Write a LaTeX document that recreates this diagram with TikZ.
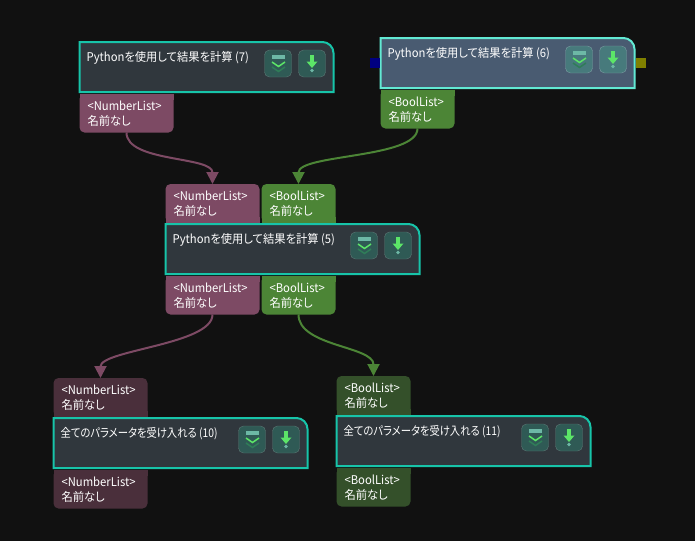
\documentclass[tikz,border=0pt]{standalone}
\usepackage{fontspec}
\setmainfont[RawFeature=+palt]{Noto Sans CJK JP}
\newfontfamily\titlefont[RawFeature=+palt,FakeStretch=0.94]{Noto Sans CJK JP}
\newfontfamily\kanatitlefont[RawFeature=+palt,FakeStretch=0.86]{Noto Sans CJK JP}
\newfontfamily\portfont[RawFeature=+palt,FakeStretch=0.94]{Noto Sans CJK JP}
\usepackage{xcolor}
\usetikzlibrary{
    arrows.meta,
    positioning,
    calc
}
\definecolor{canvasbg}{HTML}{111111}
\definecolor{plainfill}{HTML}{30373D}
\definecolor{plainedge}{HTML}{17C4A9}
\definecolor{plainbtn}{HTML}{2F5A55}
\definecolor{plainbtnedge}{HTML}{5B7774}
\definecolor{activefill}{HTML}{495B71}
\definecolor{activeedge}{HTML}{62E9D3}
\definecolor{activebtn}{HTML}{477A7C}
\definecolor{activebtnedge}{HTML}{7A9CA2}
\definecolor{numfill}{HTML}{7D4A64}
\definecolor{numdim}{HTML}{4A2F3B}
\definecolor{boolfill}{HTML}{4C8536}
\definecolor{booldim}{HTML}{34502A}
\definecolor{iconbar}{HTML}{6DB8A6}
\definecolor{iconlime}{HTML}{5CE568}
\definecolor{icondim}{HTML}{2F7D58}
\definecolor{socketblue}{HTML}{000080}
\definecolor{socketolive}{HTML}{808000}
\tikzset{
    % Block body, outline is drawn afterwards
    blockbox/.style={
        rectangle,
        anchor=north west,
        minimum width=254pt,
        minimum height=50pt,
        inner sep=0pt,
        outer sep=0pt
    },
    % Block title
    blocktext/.style={
        font=\titlefont\fontsize{12}{14}\selectfont,
        text=white,
        inner sep=0pt
    },
    % Square button on a block
    iconbutton/.style={
        rectangle,
        rounded corners=5pt,
        draw=#1btnedge,
        fill=#1btn,
        minimum size=27pt,
        inner sep=0pt,
        outer sep=0pt
    },
    % Typed port, number or bool width
    portbox/.style={
        rectangle,
        rounded corners=5pt,
        fill=#1,
        text=white,
        font=\portfont\fontsize{12}{15}\selectfont,
        minimum height=38.5pt,
        inner xsep=8pt,
        inner ysep=0pt,
        outer sep=0pt,
        align=left
    },
    numport/.style={portbox=#1, text width=78pt},
    boolport/.style={portbox=#1, text width=58pt},
    % Small side socket
    sidesocket/.style={
        rectangle,
        fill=#1,
        minimum size=10pt,
        inner sep=0pt,
        outer sep=0pt
    },
    % Connector between ports
    linkarrow/.style={
        -{Triangle[width=12pt,length=12pt]},
        line width=2pt,
        color=#1
    }
}
% name, top left corner, title, colour prefix
\newcommand{\flowblock}[4]{
    \node[blockbox] (#1) at (#2) {};
    \path[draw=#4edge, fill=#4fill, line width=2pt]
        (#1.south west) -- (#1.north west) -- ($(#1.north east)+(-11,0)$)
        .. controls ($(#1.north east)+(-5,0)$) and ($(#1.north east)+(0,5)$) .. ($(#1.north east)+(0,11)$)
        -- (#1.south east) -- cycle;
    \node[blocktext, anchor=west] (#1-title) at ($(#1.north west)+(7,16)$) {#3};
    \node[iconbutton=#4, below left=8pt and 8pt of #1.north east] (#1-pin) {};
    \node[iconbutton=#4, left=7pt of #1-pin] (#1-fold) {};
    % fold icon
    \begin{scope}[shift={(#1-fold.center)}]
        \fill[iconbar] (-6,-8.5) rectangle (7,-4.5);
        \draw[iconlime, line width=1.5pt] (-6,-1.5) -- (0.5,3) -- (7,-1.5);
        \draw[icondim, line width=1.5pt] (-6,3.5) -- (0.5,8) -- (7,3.5);
    \end{scope}
    % pin icon
    \begin{scope}[shift={(#1-pin.center)}]
        \fill[iconlime] (-2,-8.5) rectangle (2,-1.5);
        \fill[iconlime] (-5.5,-2) -- (5.5,-2) -- (0,4.5) -- cycle;
        \fill[iconbar] (0,7) circle (1.8);
    \end{scope}
}
% squares the corners of a port that touches a block
\newcommand{\squaretop}[2]{
    \fill[#2] (#1.north west) rectangle ($(#1.north east)+(0,6)$);
}
\newcommand{\squarebottom}[2]{
    \fill[#2] (#1.south west) rectangle ($(#1.south east)+(0,-6)$);
}

\begin{document}
\begin{tikzpicture}[x=1pt, y=-1pt]
    \useasboundingbox (0,0) rectangle (695,541);
    \fill[canvasbg] (0,0) rectangle (695,541);

    \flowblock{calc7}{79.5,42}{Pythonを使用して結果を計算 (7)}{plain}
    \flowblock{calc6}{380.5,38}{Pythonを使用して結果を計算 (6)}{active}
    \flowblock{calc5}{165.5,224}{Pythonを使用して結果を計算 (5)}{plain}
    \flowblock{accept10}{53.5,418}{\kanatitlefont 全てのパラメータを受け入れる (10)}{plain}
    \flowblock{accept11}{336.5,416}{\kanatitlefont 全てのパラメータを受け入れる (11)}{plain}

    \node[sidesocket=socketblue, left=1pt of calc6.west] (calc6-in) {};
    \node[sidesocket=socketolive, right=1pt of calc6.east] (calc6-out) {};

    \node[numport=numfill, below=2pt of calc7.south west, anchor=north west] (calc7-num) {<NumberList>\\名前なし};
    \node[boolport=boolfill, below=2pt of calc6.south west, anchor=north west] (calc6-bool) {<BoolList>\\名前なし};

    \node[numport=numfill, above=1.5pt of calc5.north west, anchor=south west] (calc5-innum) {<NumberList>\\名前なし};
    \node[boolport=boolfill, right=2pt of calc5-innum] (calc5-inbool) {<BoolList>\\名前なし};
    \node[numport=numfill, below=2pt of calc5.south west, anchor=north west] (calc5-num) {<NumberList>\\名前なし};
    \node[boolport=boolfill, right=2pt of calc5-num] (calc5-bool) {<BoolList>\\名前なし};

    \node[numport=numdim, above=1.5pt of accept10.north west, anchor=south west] (accept10-in) {<NumberList>\\名前なし};
    \node[numport=numdim, below=2pt of accept10.south west, anchor=north west] (accept10-out) {<NumberList>\\名前なし};
    \node[boolport=booldim, above=1.5pt of accept11.north west, anchor=south west] (accept11-in) {<BoolList>\\名前なし};
    \node[boolport=booldim, below=2pt of accept11.south west, anchor=north west] (accept11-out) {<BoolList>\\名前なし};

    \squaretop{calc7-num}{numfill}
    \squaretop{calc6-bool}{boolfill}
    \squaretop{calc5-num}{numfill}
    \squaretop{calc5-bool}{boolfill}
    \squaretop{accept10-out}{numdim}
    \squaretop{accept11-out}{booldim}
    \squarebottom{calc5-innum}{numfill}
    \squarebottom{calc5-inbool}{boolfill}
    \squarebottom{accept10-in}{numdim}
    \squarebottom{accept11-in}{booldim}

    \draw[linkarrow=numfill] (calc7-num.south) .. controls +(0,30) and +(0,-28) .. (calc5-innum.north);
    \draw[linkarrow=boolfill] (calc6-bool.south) .. controls +(0,30) and +(0,-30) .. (calc5-inbool.north);
    \draw[linkarrow=numfill] (calc5-num.south) .. controls +(0,30) and +(0,-28) .. (accept10-in.north);
    \draw[linkarrow=boolfill] (calc5-bool.south) .. controls +(0,32) and +(0,-30) .. (accept11-in.north);
\end{tikzpicture}
\end{document}
